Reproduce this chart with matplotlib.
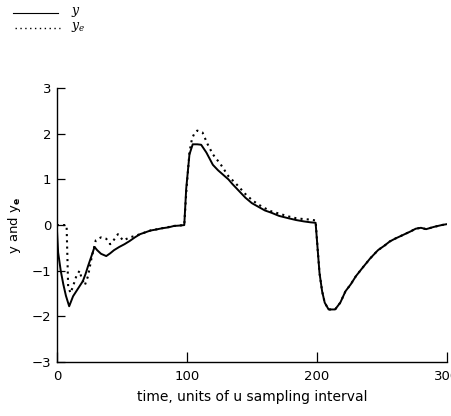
import matplotlib
matplotlib.use("Agg")
import matplotlib.pyplot as plt
from matplotlib.lines import Line2D

# output y and model output y_e, read per segment (t in sampling intervals)
y_t = [0, 1, 3, 5, 7, 9.5, 12.5, 15, 17.5, 20, 22, 24, 27, 29, 31, 34, 38, 41, 44, 48,
       52, 56, 60, 64, 68, 72, 76, 81, 86, 90, 95, 98,
       99.5, 102, 104.5, 108, 111, 115, 120, 124, 128, 132, 135, 140, 145, 150, 155,
       160, 165, 171, 178, 184, 190, 195, 199]
y_v = [-0.05, -0.6, -1.0, -1.3, -1.55, -1.78, -1.56, -1.45, -1.34, -1.23, -1.08, -0.9,
       -0.65, -0.48, -0.55, -0.63, -0.68, -0.62, -0.55, -0.48,
       -0.42, -0.35, -0.27, -0.2, -0.16, -0.12, -0.1, -0.07, -0.05, -0.02, -0.01, 0.0,
       0.8, 1.55, 1.77, 1.77, 1.76, 1.59, 1.32, 1.2, 1.1, 1.0, 0.9, 0.75, 0.6, 0.48, 0.4,
       0.32, 0.27, 0.2, 0.15, 0.11, 0.08, 0.06, 0.05]

ye_t = [0, 7.5, 8.7, 10.5, 12.5, 15, 17.5, 19, 21.5, 24, 26.5, 30, 34, 38, 41, 44, 47,
        51, 56, 60, 64, 68, 72, 81, 90, 98,
        99.5, 102, 104, 106, 108, 112, 116, 120, 126, 132, 138, 145, 150, 155,
        160, 165, 171, 178, 184, 190, 195, 199]
ye_v = [0, 0, -1.34, -1.49, -1.34, -1.12, -1.0, -1.16, -1.32, -1.12, -0.75, -0.33,
        -0.27, -0.3, -0.42, -0.32, -0.2, -0.34, -0.27, -0.24, -0.2, -0.16, -0.12,
        -0.07, -0.02, 0.0,
        0.7, 1.6, 1.9, 2.02, 2.07, 2.03, 1.77, 1.55, 1.33, 1.07, 0.9, 0.68, 0.55, 0.45,
        0.37, 0.3, 0.25, 0.19, 0.15, 0.13, 0.12, 0.1]

# last segment, both curves coincide
tail_t = [200.5, 202, 204, 206, 209, 214, 218, 222, 226, 230, 235, 241, 247, 252, 256,
          260, 266, 272, 276, 280, 284, 290, 296, 300]
tail_v = [-0.5, -1.05, -1.45, -1.7, -1.85, -1.85, -1.7, -1.45, -1.3, -1.12, -0.94,
          -0.73, -0.55, -0.45, -0.36, -0.3, -0.22, -0.14, -0.08, -0.06, -0.09, -0.04,
          0.0, 0.02]

xticks = [0, 100, 200, 300]
yticks = [-3, -2, -1, 0, 1, 2, 3]

plt.rcParams['mathtext.fontset'] = 'custom'
plt.rcParams['mathtext.it'] = 'DejaVu Serif:italic'
plt.rcParams['mathtext.bf'] = 'DejaVu Sans:bold'
plt.rcParams['mathtext.rm'] = 'DejaVu Sans'

fig = plt.figure(figsize=(4.51, 4.16), dpi=100)
ax = fig.add_axes([0.126, 0.130, 0.865, 0.658])

ax.plot(y_t + tail_t, y_v + tail_v, color='black', lw=1.4)
ax.plot(ye_t + tail_t, ye_v + tail_v, color='black', lw=1.5, linestyle=(0, (1, 2)))

ax.set_xlim(0, 300)
ax.set_ylim(-3, 3)
ax.set_xticks(xticks)
ax.set_yticks(yticks)
ax.set_yticklabels(['\u22123', '\u22122', '\u22121', '0', '1', '2', '3'])
ax.spines['top'].set_visible(False)
ax.spines['right'].set_visible(False)
ax.spines['left'].set_linewidth(1.0)
ax.spines['bottom'].set_linewidth(1.0)
ax.tick_params(axis='x', direction='in', length=7, width=0.9, pad=6, labelsize=9.5)
ax.tick_params(axis='y', direction='in', length=6, width=0.9, pad=4, labelsize=9.5)
for lab in ax.get_xticklabels():
    lab.set_clip_on(False)

ax.set_xlabel('time, units of u sampling interval', fontsize=10, labelpad=5)
ax.set_ylabel(r'y and y$_\mathbf{e}$', fontsize=9.5, labelpad=6)

# legend drawn in figure coordinates
fig.add_artist(Line2D([13 / 451, 58 / 451], [1 - 13 / 416, 1 - 13 / 416],
                      color='black', lw=0.8))
fig.add_artist(Line2D([15 / 451, 60 / 451], [1 - 28 / 416, 1 - 28 / 416],
                      color='black', lw=1.0, linestyle=(0, (1, 2.5))))
fig.text(71 / 451, 1 - 12 / 416, r'$y$', fontsize=9, va='center')
fig.text(71 / 451, 1 - 27 / 416, r'$y_e$', fontsize=9, va='center')

fig.savefig('out.png', dpi=100)
